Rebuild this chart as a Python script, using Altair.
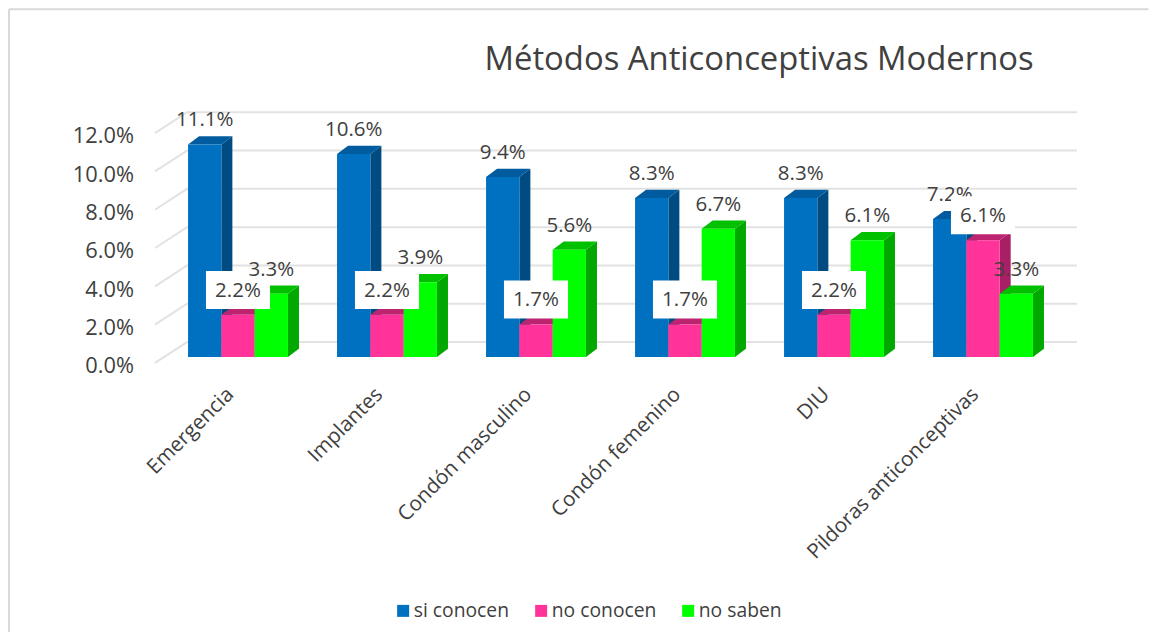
import altair as alt
import pandas as pd

categories = ["Emergencia", "Implantes", "Condón masculino", "Condón femenino", "DIU", "Pildoras anticonceptivas"]
si_conocen = [11.1, 10.6, 9.4, 8.3, 8.3, 7.2]
no_conocen = [2.2, 2.2, 1.7, 1.7, 2.2, 6.1]
no_saben = [3.3, 3.9, 5.6, 6.7, 6.1, 3.3]
series_names = ["si conocen", "no conocen", "no saben"]
series_values = [si_conocen, no_conocen, no_saben]
front_colors = ["#0070C0", "#FF3399", "#00FF00"]
side_colors = ["#004B82", "#A81F65", "#00A800"]
top_colors = ["#005C9E", "#BD2470", "#00C000"]
ticks = [0, 2, 4, 6, 8, 10, 12]
title_text = "Métodos Anticonceptivas Modernos"

FONT = "Open Sans"
TXT = "#404040"
BAR_W = 0.2235      # bar width, in category steps
DEPTH_X = 0.074     # 3-D depth along x, in category steps
DEPTH_Y = 0.43      # 3-D depth along y, in percent
GRID = "#E2E2E2"

x_scale = alt.Scale(domain=[-0.5, 5.5], nice=False, zero=False)
y_scale = alt.Scale(domain=[0, 12], nice=False, zero=False)
x_axis = alt.Axis(
    values=list(range(6)),
    labelExpr="datum.value >= 0 ? " + str(categories) + "[datum.value] : ''",
    labelAngle=-45, labelAlign="right", labelBaseline="middle", labelPadding=34,
    labelOffset=-8, labelFontSize=20.6, labelFont=FONT, labelColor=TXT, labelLimit=0,
    labelOverlap=False, labelFlush=False,
    domain=False, ticks=False, grid=False)
y_axis = alt.Axis(
    values=ticks,
    labelExpr="format(datum.value, '.1f') + '%'",
    labelFontSize=21.8, labelFont=FONT, labelColor=TXT, labelPadding=30,
    labelOffset=8.7, labelOverlap=False, labelFlush=False,
    domain=False, ticks=False, grid=False)
X = lambda f="x": alt.X(f"{f}:Q", scale=x_scale, axis=x_axis, title=None)
Y = lambda f="y": alt.Y(f"{f}:Q", scale=y_scale, axis=y_axis, title=None, stack=None)

# Grid: floor-to-wall diagonal + back wall line
grid_rows = []
for t in ticks:
    grid_rows += [
        {"tick": t, "x": -0.557, "y": t - 0.31},
        {"tick": t, "x": -0.342, "y": t + 0.78},
        {"tick": t, "x": 5.63, "y": t + 0.78},
    ]
grid = alt.Chart(pd.DataFrame(grid_rows)).mark_line(color=GRID, strokeWidth=2).encode(
    x=X(), y=Y(), detail="tick:N",
)

layers = [grid]
for s, (name, vals) in enumerate(zip(series_names, series_values)):
    side, top, front = [], [], []
    for g, v in enumerate(vals):
        x0 = g + (s - 1.5) * BAR_W
        x1 = x0 + BAR_W
        front.append({"serie": name, "x": x0, "x2": x1, "y": 0, "y2": v})
        side += [
            {"g": g, "x": x1, "y": 0, "y2": v},
            {"g": g, "x": x1 + DEPTH_X, "y": DEPTH_Y, "y2": v + DEPTH_Y},
        ]
        top += [
            {"g": g, "x": x0, "y": v, "y2": v},
            {"g": g, "x": x0 + DEPTH_X, "y": v, "y2": v + DEPTH_Y},
            {"g": g, "x": x1, "y": v, "y2": v + DEPTH_Y},
            {"g": g, "x": x1 + DEPTH_X, "y": v + DEPTH_Y, "y2": v + DEPTH_Y},
        ]
    for rows, col in ((side, side_colors[s]), (top, top_colors[s])):
        layers.append(
            alt.Chart(pd.DataFrame(rows)).mark_area(color=col, opacity=1, interpolate="linear").encode(
                x=X(), y=Y(), y2="y2:Q", detail="g:N"
            )
        )
    legend = alt.Legend(
        title=None, orient="none", direction="horizontal", legendX=230, legendY=474,
        symbolType="square", symbolSize=144, symbolStrokeWidth=0, labelFont=FONT,
        labelFontSize=19.3, labelColor=TXT, columnPadding=22, labelOffset=1,
    ) if s == 0 else None
    layers.append(
        alt.Chart(pd.DataFrame(front)).mark_rect(opacity=1).encode(
            x=X(), x2="x2:Q", y=Y(), y2="y2:Q",
            color=alt.Color("serie:N", legend=legend,
                            scale=alt.Scale(domain=series_names, range=front_colors)),
        )
    )

def label_rows(s):
    return pd.DataFrame({
        "x": [g + (s - 1) * BAR_W for g in range(len(categories))],
        "y": series_values[s],
        "t": [f"{v:.1f}%" for v in series_values[s]],
    })

text_kw = dict(font=FONT, fontSize=20.5, color=TXT, dy=-24, baseline="middle", align="center")
layers.append(alt.Chart(label_rows(0)).mark_text(**text_kw).encode(x=X(), y=Y(), text="t:N"))

box = pd.DataFrame({
    "x": [g - 0.215 for g in range(len(categories))],
    "x2": [g + 0.215 for g in range(len(categories))],
    "y": [v + 0.31 for v in no_conocen],
    "y2": [v + 2.29 for v in no_conocen],
})
layers.append(alt.Chart(box).mark_rect(color="white", opacity=1).encode(x=X(), x2="x2:Q", y=Y(), y2="y2:Q"))
layers.append(alt.Chart(label_rows(2)).mark_text(**text_kw).encode(x=X(), y=Y(), text="t:N"))
layers.append(alt.Chart(label_rows(1)).mark_text(**text_kw).encode(x=X(), y=Y(), text="t:N"))

# Chart frame and title
one = pd.DataFrame({"t": [title_text]})
layers.append(alt.Chart(one).mark_rule(color="#D9D9D9", strokeWidth=2).encode(
    x=alt.value(-154.5), y=alt.value(-118), y2=alt.value(505)))
layers.append(alt.Chart(one).mark_rule(color="#D9D9D9", strokeWidth=2).encode(
    x=alt.value(-154.5), x2=alt.value(985), y=alt.value(-118)))
layers.append(alt.Chart(one).mark_text(font=FONT, fontSize=32.8, color=TXT, align="left", baseline="middle").encode(
    x=alt.value(321), y=alt.value(-67), text="t:N"))

chart = alt.layer(*layers).properties(
    width=894, height=229.8,
    autosize=alt.AutoSizeParams(type="none"),
    padding={"left": 155.5, "top": 119.2, "right": 91.5, "bottom": 275},
).configure_view(stroke=None).resolve_scale(color="shared")

chart.save("out.html", embed_options={"renderer": "svg", "actions": False})
